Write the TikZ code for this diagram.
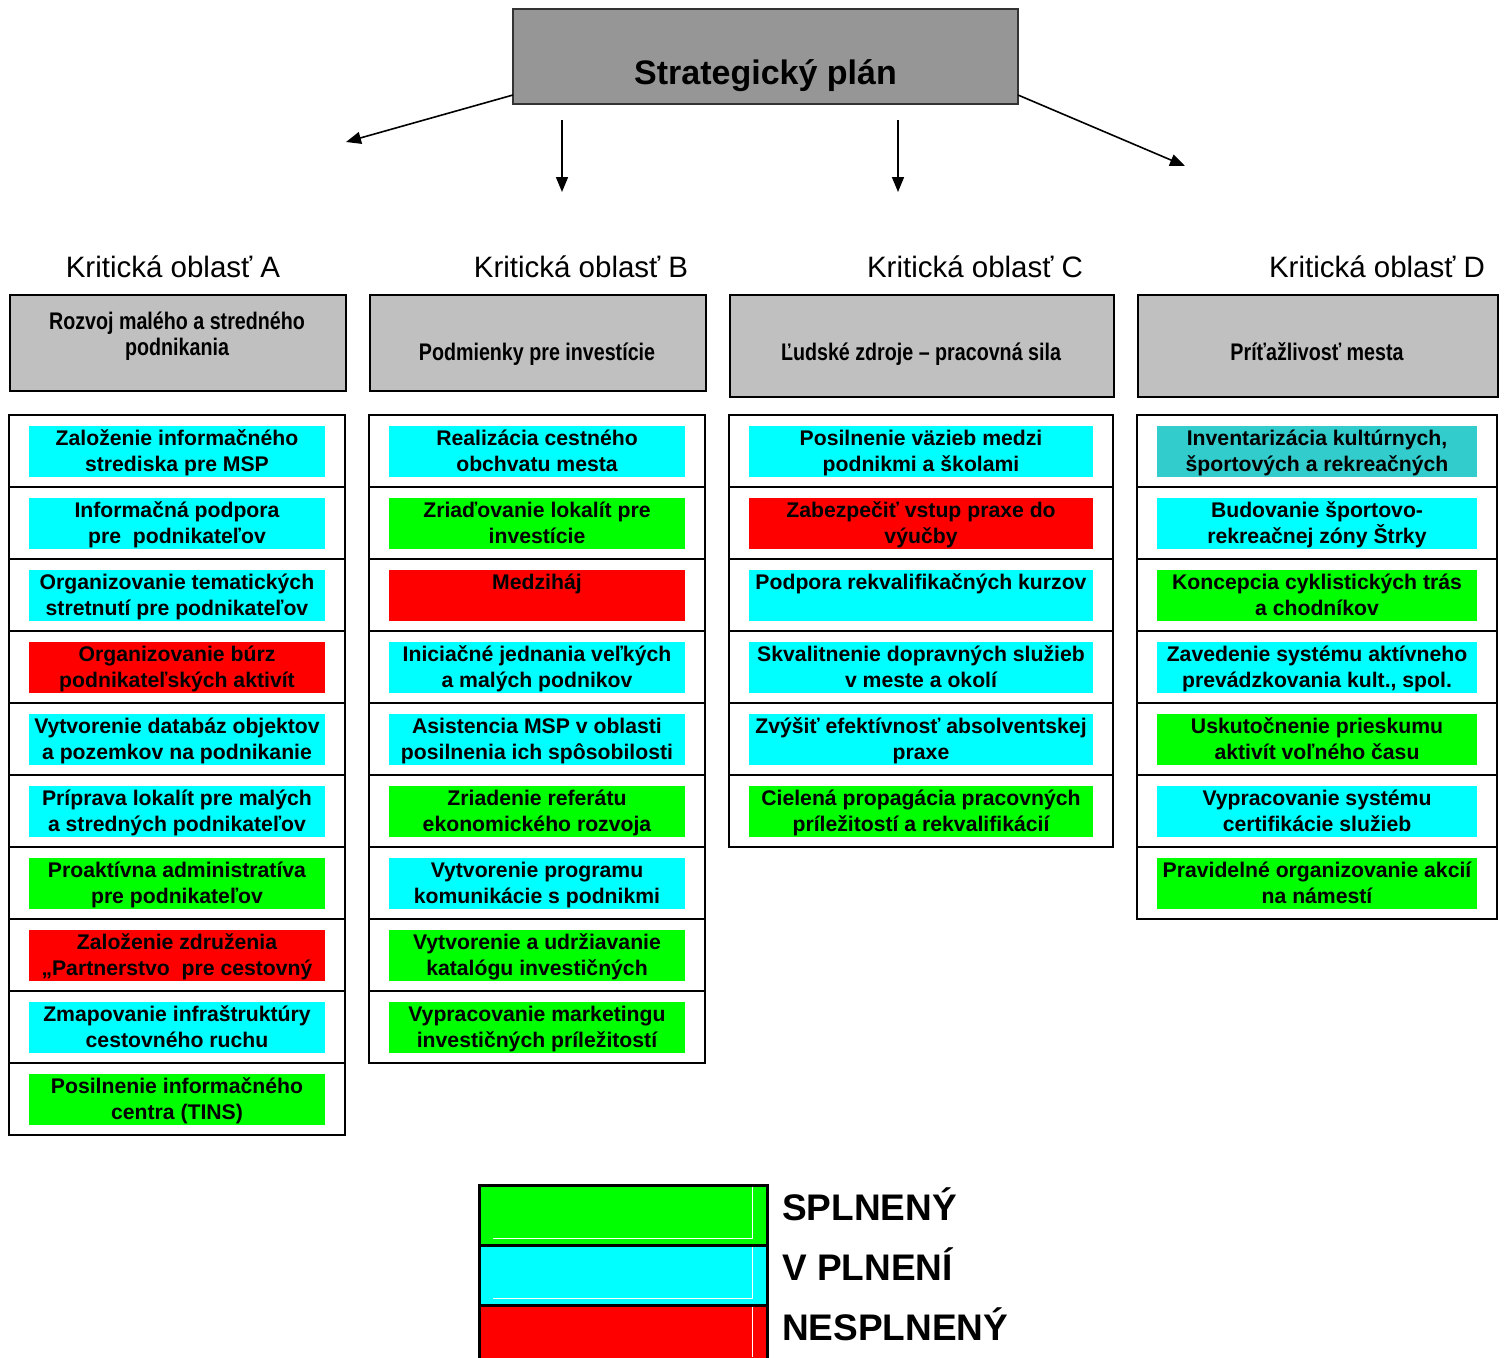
\documentclass[tikz,border=0pt]{standalone}
\usepackage{fontspec}
\setmainfont{Liberation Sans}
\newfontfamily\narrowfont[FakeStretch=0.82]{Liberation Sans}
\usetikzlibrary{arrows.meta}
\definecolor{cyanok}{HTML}{00FFFF}
\definecolor{greenok}{HTML}{00FF00}
\definecolor{redno}{HTML}{FF0000}
\definecolor{tealx}{HTML}{33CCCC}
\definecolor{hdrgray}{HTML}{C0C0C0}
\definecolor{topgray}{HTML}{969696}
\tikzset{
  rowframe/.style={draw=black, line width=2pt},
  barbox/.style={draw=none, inner sep=0pt, minimum height=51pt},
  itemtext/.style={anchor=base, inner sep=0pt, font=\fontsize{21.2}{25}\selectfont\bfseries},
  hdrbox/.style={draw=black, line width=2pt, fill=hdrgray, inner sep=0pt, anchor=north west},
  hdrtext/.style={anchor=base, inner sep=0pt, font=\narrowfont\fontsize{24}{28}\selectfont\bfseries},
  areatext/.style={anchor=base, inner sep=0pt, font=\fontsize{29.5}{34}\selectfont},
  legtext/.style={anchor=base west, inner sep=0pt, font=\fontsize{37}{44}\selectfont\bfseries},
  arr/.style={line width=1.6pt, -{Triangle[length=15pt,width=12pt]}},
}
% #1 name, #2 frame left, #3 frame right, #4 row top, #5 colour, #6 line 1, #7 line 2
\newcommand\itm[7]{%
  \draw[rowframe] (#2,#4) rectangle (#3,#4+72);
  \node[barbox, fill=#5, minimum width={(#3-#2-40)*1pt}] (#1) at ({(#2+#3)/2},#4+36.5) {};
  \node[itemtext] (#1a) at ({(#2+#3)/2},#4+30.5) {#6};
  \node[itemtext] (#1b) at ({(#2+#3)/2},#4+56.5) {#7};
}
\begin{document}
\begin{tikzpicture}[x=1pt,y=-1pt]
\useasboundingbox[fill=white] (0,0) rectangle (1506,1357);

% top
\node[draw=black!80, line width=1.5pt, fill=topgray, minimum width=505pt, minimum height=95pt, inner sep=0pt] (top) at (765.5,56.5) {};
\node[anchor=base, inner sep=0pt, font=\fontsize{34}{40}\selectfont\bfseries] (toptext) at (765.5,84) {Strategický plán};

\coordinate (sA) at (513,95);
\coordinate (eA) at (346,142);
\coordinate (sB) at (562,120);
\coordinate (eB) at (562,192);
\coordinate (sC) at (898,120);
\coordinate (eC) at (898,192);
\coordinate (sD) at (1018,95);
\coordinate (eD) at (1185,166);
\draw[arr] (sA) -- (eA);
\draw[arr] (sB) -- (eB);
\draw[arr] (sC) -- (eC);
\draw[arr] (sD) -- (eD);

% area labels
\node[areatext] (kA) at (173,277) {Kritická oblasť A};
\node[areatext] (kB) at (581,277) {Kritická oblasť B};
\node[areatext] (kC) at (975,277) {Kritická oblasť C};
\node[areatext] (kD) at (1377,277) {Kritická oblasť D};

% headers
\node[hdrbox, minimum width=336pt, minimum height=96pt] (hA) at (9,294) {};
\node[hdrbox, minimum width=336pt, minimum height=96pt] (hB) at (369,294) {};
\node[hdrbox, minimum width=384pt, minimum height=102pt] (hC) at (729,294) {};
\node[hdrbox, minimum width=360pt, minimum height=102pt] (hD) at (1137,294) {};
\node[hdrtext] (hAt1) at (177,329) {Rozvoj malého a stredného};
\node[hdrtext] (hAt2) at (177,355) {podnikania};
\node[hdrtext] (hBt) at (537,360) {Podmienky pre investície};
\node[hdrtext] (hCt) at (921,360) {Ľudské zdroje – pracovná sila};
\node[hdrtext] (hDt) at (1317,360) {Príťažlivosť mesta};

% column A
\itm{a1}{9}{345}{415}{cyanok}{Založenie informačného}{strediska pre MSP}
\itm{a2}{9}{345}{487}{cyanok}{Informačná podpora}{pre\ \ podnikateľov}
\itm{a3}{9}{345}{559}{cyanok}{Organizovanie tematických}{stretnutí pre podnikateľov}
\itm{a4}{9}{345}{631}{redno}{Organizovanie búrz}{podnikateľských aktivít}
\itm{a5}{9}{345}{703}{cyanok}{Vytvorenie databáz objektov}{a pozemkov na podnikanie}
\itm{a6}{9}{345}{775}{cyanok}{Príprava lokalít pre malých}{a stredných podnikateľov}
\itm{a7}{9}{345}{847}{greenok}{Proaktívna administratíva}{pre podnikateľov}
\itm{a8}{9}{345}{919}{redno}{Založenie združenia}{„Partnerstvo\ \ pre cestovný}
\itm{a9}{9}{345}{991}{cyanok}{Zmapovanie infraštruktúry}{cestovného ruchu}
\itm{a10}{9}{345}{1063}{greenok}{Posilnenie informačného}{centra (TINS)}

% column B
\itm{b1}{369}{705}{415}{cyanok}{Realizácia cestného}{obchvatu mesta}
\itm{b2}{369}{705}{487}{greenok}{Zriaďovanie lokalít pre}{investície}
\itm{b3}{369}{705}{559}{redno}{Medziháj}{}
\itm{b4}{369}{705}{631}{cyanok}{Iniciačné jednania veľkých}{a malých podnikov}
\itm{b5}{369}{705}{703}{cyanok}{Asistencia MSP v oblasti}{posilnenia ich spôsobilosti}
\itm{b6}{369}{705}{775}{greenok}{Zriadenie referátu}{ekonomického rozvoja}
\itm{b7}{369}{705}{847}{cyanok}{Vytvorenie programu}{komunikácie s podnikmi}
\itm{b8}{369}{705}{919}{greenok}{Vytvorenie a udržiavanie}{katalógu investičných}
\itm{b9}{369}{705}{991}{greenok}{Vypracovanie marketingu}{investičných príležitostí}

% column C
\itm{c1}{729}{1113}{415}{cyanok}{Posilnenie väzieb medzi}{podnikmi a školami}
\itm{c2}{729}{1113}{487}{redno}{Zabezpečiť vstup praxe do}{výučby}
\itm{c3}{729}{1113}{559}{cyanok}{Podpora rekvalifikačných kurzov}{}
\itm{c4}{729}{1113}{631}{cyanok}{Skvalitnenie dopravných služieb}{v meste a okolí}
\itm{c5}{729}{1113}{703}{cyanok}{Zvýšiť efektívnosť absolventskej}{praxe}
\itm{c6}{729}{1113}{775}{greenok}{Cielená propagácia pracovných}{príležitostí a rekvalifikácií}

% column D
\itm{d1}{1137}{1497}{415}{tealx}{Inventarizácia kultúrnych,}{športových a rekreačných}
\itm{d2}{1137}{1497}{487}{cyanok}{Budovanie športovo-}{rekreačnej zóny Štrky}
\itm{d3}{1137}{1497}{559}{greenok}{Koncepcia cyklistických trás}{a chodníkov}
\itm{d4}{1137}{1497}{631}{cyanok}{Zavedenie systému aktívneho}{prevádzkovania kult., spol.}
\itm{d5}{1137}{1497}{703}{greenok}{Uskutočnenie prieskumu}{aktivít voľného času}
\itm{d6}{1137}{1497}{775}{cyanok}{Vypracovanie systému}{certifikácie služieb}
\itm{d7}{1137}{1497}{847}{greenok}{Pravidelné organizovanie akcií}{na námestí}

% legend
\node[draw=black, line width=2.5pt, fill=greenok, minimum width=288pt, minimum height=60pt, inner sep=0pt, anchor=north west] (lg) at (478,1184) {};
\node[draw=black, line width=2.5pt, fill=cyanok, minimum width=288pt, minimum height=60pt, inner sep=0pt, anchor=north west] (lc) at (478,1244) {};
\node[draw=black, line width=2.5pt, fill=redno, minimum width=288pt, minimum height=64pt, inner sep=0pt, anchor=north west] (lr) at (478,1304) {};
\draw[white, line width=0.6pt] (752,1187) -- (752,1238) -- (493,1238);
\draw[white, line width=0.6pt] (752,1247) -- (752,1298) -- (493,1298);
\draw[white, line width=0.6pt] (752,1307) -- (752,1357);
\node[legtext] (lgt) at (782,1220) {SPLNENÝ};
\node[legtext] (lct) at (782,1280) {V PLNENÍ};
\node[legtext] (lrt) at (782,1340) {NESPLNENÝ};
\end{tikzpicture}
\end{document}
